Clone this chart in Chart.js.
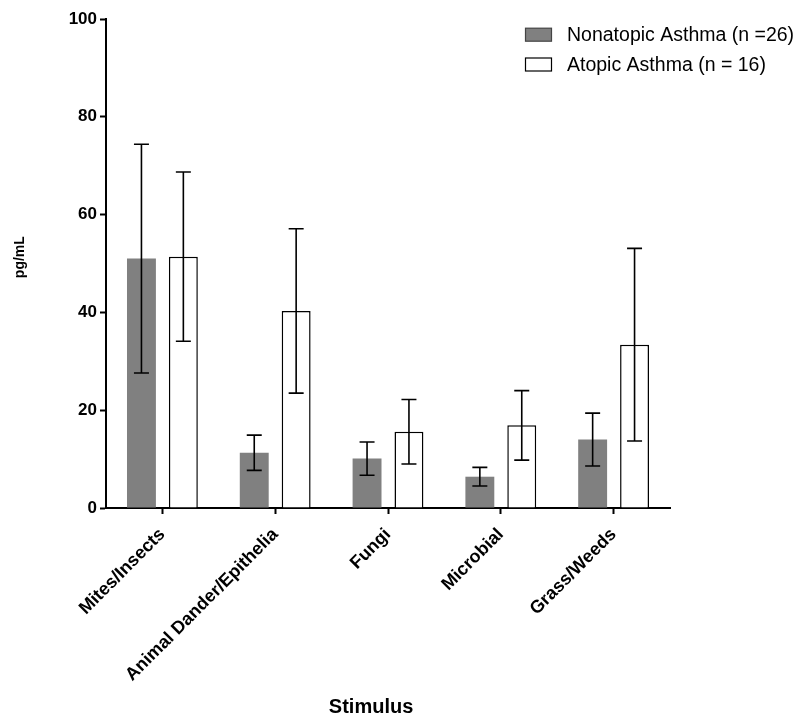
<!DOCTYPE html>
<html>
<head>
<meta charset="utf-8">
<script src="https://cdn.jsdelivr.net/npm/chart.js@4.4.1/dist/chart.umd.min.js"></script>
<style>
  html, body { margin: 0; padding: 0; background: #ffffff; }
  canvas { display: block; }
</style>
</head>
<body>
<canvas id="c" width="801" height="717"></canvas>
<script>
// Cytokine release by stimulus class, mean ± SEM (pg/mL)
const stimuli = ['Mites/Insects', 'Animal Dander/Epithelia', 'Fungi', 'Microbial', 'Grass/Weeds'];
const nonatopicLabel = 'Nonatopic Asthma (n =26)';
const atopicLabel = 'Atopic Asthma (n = 16)';
const nonatopicMean = [51.0, 11.3, 10.1, 6.4, 14.0];
const nonatopicSem  = [23.4, 3.6, 3.4, 1.9, 5.4];
const atopicMean    = [51.4, 40.3, 15.6, 16.9, 33.4];
const atopicSem     = [17.3, 16.8, 6.6, 7.1, 19.7];
const yTicks = [0, 20, 40, 60, 80, 100];
const xTitle = 'Stimulus';
const yTitle = 'pg/mL';

const FONT = "'Liberation Sans', Arial, Helvetica, sans-serif";
const GRAY = '#808080';

// Error bars (mean ± SEM) drawn over each bar using the chart's own scales
const errorBars = {
  id: 'errorBars',
  afterDatasetsDraw(chart) {
    const ctx = chart.ctx;
    const y = chart.scales.y;
    const errs = [nonatopicSem, atopicSem];
    ctx.save();
    ctx.strokeStyle = '#000000';
    ctx.lineWidth = 1.6;
    chart.data.datasets.forEach((ds, di) => {
      const meta = chart.getDatasetMeta(di);
      meta.data.forEach((bar, i) => {
        const v = ds.data[i];
        const e = errs[di][i];
        const x = bar.x;
        const yTop = y.getPixelForValue(v + e);
        const yBot = y.getPixelForValue(v - e);
        const cap = 7.5;
        ctx.beginPath();
        ctx.moveTo(x, yTop); ctx.lineTo(x, yBot);
        ctx.moveTo(x - cap, yTop); ctx.lineTo(x + cap, yTop);
        ctx.moveTo(x - cap, yBot); ctx.lineTo(x + cap, yBot);
        ctx.stroke();
      });
    });
    ctx.restore();
  }
};

// Legend in the upper right and the axis titles
const annotations = {
  id: 'annotations',
  afterDraw(chart) {
    const ctx = chart.ctx;
    const area = chart.chartArea;
    ctx.save();
    // legend
    const rows = [
      { label: chart.data.datasets[0].label, fill: GRAY, stroke: '#444444', y: 34.7 },
      { label: chart.data.datasets[1].label, fill: '#ffffff', stroke: '#000000', y: 64.5 }
    ];
    ctx.font = '19.5px ' + FONT;
    ctx.textBaseline = 'middle';
    ctx.textAlign = 'left';
    rows.forEach(r => {
      ctx.fillStyle = r.fill;
      ctx.fillRect(525.5, r.y - 6.5, 26, 13);
      ctx.strokeStyle = r.stroke;
      ctx.lineWidth = 1.2;
      ctx.strokeRect(525.5, r.y - 6.5, 26, 13);
      ctx.fillStyle = '#000000';
      ctx.fillText(r.label, 567, r.y + 1);
    });
    // x title
    ctx.font = 'bold 20px ' + FONT;
    ctx.textAlign = 'center';
    ctx.textBaseline = 'alphabetic';
    ctx.fillText(xTitle, area.left + (area.right - area.left) * 0.47, 713);
    // y title
    ctx.translate(24, area.top + (area.bottom - area.top) * 0.487);
    ctx.rotate(-Math.PI / 2);
    ctx.font = 'bold 14px ' + FONT;
    ctx.textBaseline = 'alphabetic';
    ctx.fillText(yTitle, 0, 0);
    ctx.restore();
  }
};

new Chart(document.getElementById('c'), {
  type: 'bar',
  data: {
    labels: stimuli,
    datasets: [
      {
        label: nonatopicLabel,
        data: nonatopicMean,
        backgroundColor: GRAY,
        borderWidth: 0
      },
      {
        label: atopicLabel,
        data: atopicMean,
        backgroundColor: '#ffffff',
        borderColor: '#000000',
        borderWidth: 1.5
      }
    ]
  },
  options: {
    responsive: false,
    animation: false,
    devicePixelRatio: 1,
    layout: { padding: { left: 0, top: 19, right: 131, bottom: 0 } },
    categoryPercentage: 0.743,
    barPercentage: 0.69,
    plugins: {
      legend: { display: false },
      tooltip: { enabled: false }
    },
    scales: {
      x: {
        offset: true,
        grid: {
          offset: false,
          drawOnChartArea: false,
          drawTicks: true,
          tickLength: 6,
          tickWidth: 2,
          tickColor: '#000000'
        },
        border: { display: true, color: '#000000', width: 2 },
        ticks: {
          color: '#000000',
          font: { family: FONT, size: 18, weight: 'bold' },
          minRotation: 45,
          maxRotation: 45,
          autoSkip: false,
          padding: 10
        },
        afterFit(scale) { scale.height = 717 - 508; }
      },
      y: {
        min: 0,
        max: 100,
        afterBuildTicks(scale) { scale.ticks = yTicks.map(v => ({ value: v })); },
        grid: {
          drawOnChartArea: false,
          drawTicks: true,
          tickLength: 6,
          tickWidth: 2,
          tickColor: '#000000'
        },
        border: { display: true, color: '#000000', width: 2 },
        ticks: {
          color: '#000000',
          font: { family: FONT, size: 17, weight: 'bold' },
          padding: 3
        },
        afterFit(scale) { scale.width = 106; }
      }
    }
  },
  plugins: [errorBars, annotations]
});
</script>
</body>
</html>
